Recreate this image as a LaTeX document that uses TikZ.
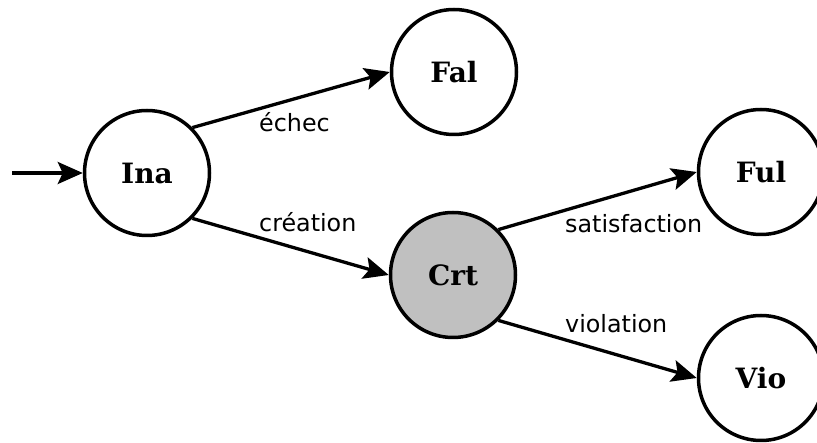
\documentclass[tikz,border=0pt]{standalone}
\usepackage{fontspec}
\setmainfont{DejaVu Serif}
\newfontfamily\labelfont{DejaVu Sans}
\usetikzlibrary{arrows.meta}
\begin{document}
\begin{tikzpicture}[x=1pt,y=-1pt,
  state/.style={circle,draw,line width=3.5pt,minimum size=125pt,inner sep=0pt,
    font=\fontsize{28}{30}\selectfont\bfseries},
  trans/.style={line width=3.3pt,-{Stealth[length=25pt,width=22pt,inset=5pt]}},
  lbl/.style={anchor=base west,inner sep=0pt,font=\labelfont\fontsize{23.8}{26}\selectfont}]
\useasboundingbox (0,0) rectangle (817,443);
\node[state] (ina) at (147,173) {Ina};
\node[state] (fal) at (454,72) {Fal};
\node[state,fill={rgb,255:red,192;green,192;blue,192}] (crt) at (453,275) {Crt};
\node[state] (ful) at (761,172) {Ful};
\node[state] (vio) at (761,378) {Vio};
\coordinate (start) at (12,173);
\draw[trans] (start) -- (ina.west);
\draw[trans] (ina.45) -- (fal.west);
\draw[trans] (ina.-45) -- (crt.west);
\draw[trans] (crt.45) -- (ful.west);
\draw[trans] (crt.-45) -- (vio.west);
\node[lbl] (l1) at (259,132) {échec};
\node[lbl] (l2) at (259,232) {création};
\node[lbl] (l3) at (565,233) {satisfaction};
\node[lbl] (l4) at (565,333) {violation};
\end{tikzpicture}
\end{document}
